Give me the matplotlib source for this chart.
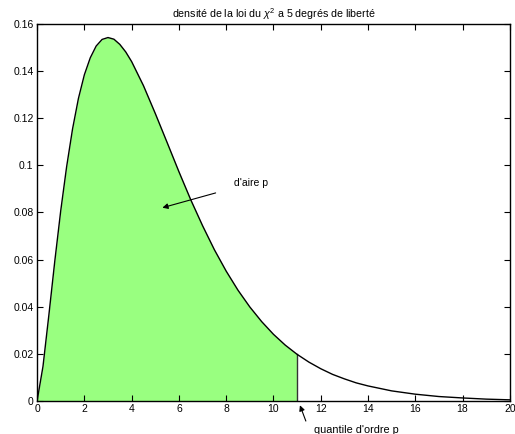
import matplotlib
matplotlib.use('Agg')
import matplotlib.pyplot as plt

plt.rcParams['font.family'] = ['Liberation Sans', 'DejaVu Sans']
plt.rcParams['mathtext.fontset'] = 'custom'
plt.rcParams['mathtext.it'] = 'Liberation Sans:italic'
plt.rcParams['mathtext.rm'] = 'Liberation Sans'

# densite
x_vals = [0, 0.25, 0.5, 0.75, 1, 1.25, 1.5, 1.75, 2, 2.25, 2.5, 2.75, 3, 3.25, 3.5, 3.75,
          4, 4.5, 5, 5.5, 6, 6.5, 7, 7.5, 8, 8.5, 9, 9.5, 10, 10.5, 11,
          11.5, 12, 12.5, 13, 13.5, 14, 15, 16, 17, 18, 19, 20]
dens = [0, 0.0147, 0.0366, 0.0594, 0.0807, 0.0994, 0.1154, 0.1284, 0.1384, 0.1456, 0.1506, 0.1534, 0.1542, 0.1535, 0.1513, 0.1481,
        0.1440, 0.1338, 0.1220, 0.1097, 0.0973, 0.0854, 0.0744, 0.0642, 0.0551, 0.0470, 0.0399, 0.0337, 0.0283, 0.0237, 0.0198,
        0.0165, 0.0137, 0.0113, 0.0094, 0.0077, 0.0064, 0.0043, 0.0029, 0.0019, 0.0013, 0.0008, 0.0005]
quantile = 11

fig = plt.figure(figsize=(5.15, 4.34), dpi=100)
ax = fig.add_axes([0.072, 0.076, 0.918, 0.869])

xs_fill = [x for x in x_vals if x <= quantile]
ys_fill = dens[:len(xs_fill)]
ax.fill_between(xs_fill, ys_fill, 0, color='#99ff80', linewidth=0)
ax.plot([quantile, quantile], [0, ys_fill[-1]], color='#333333', linewidth=1)
ax.plot(x_vals, dens, color='black', linewidth=1)

ax.set_xlim(0, 20)
ax.set_ylim(0, 0.16)
ax.set_xticks(range(0, 21, 2))
ax.set_yticks([0, 0.02, 0.04, 0.06, 0.08, 0.1, 0.12, 0.14, 0.16])
ax.set_yticklabels(['0', '0.02', '0.04', '0.06', '0.08', '0.1', '0.12', '0.14', '0.16'])
ax.tick_params(direction='in', top=True, right=True, labelsize=7.5, length=4, pad=2.5)
for s in ax.spines.values():
    s.set_linewidth(1)

ax.set_title(r'densité de la loi du $\chi^2$ a 5 degrés de liberté', fontsize=7.7, pad=4)

ax.annotate("d'aire p", xy=(5.3, 0.082), xytext=(8.35, 0.0925), fontsize=7.5,
            va='center', ha='left',
            arrowprops=dict(arrowstyle='-|>', color='black', lw=0.8,
                            mutation_scale=8, shrinkA=12, shrinkB=0),
            annotation_clip=False)
ax.annotate("", xy=(11.12, -0.0018), xytext=(11.37, -0.0085),
            arrowprops=dict(arrowstyle='-|>', color='black', lw=0.8,
                            mutation_scale=8, shrinkA=0, shrinkB=0),
            annotation_clip=False)
ax.text(11.7, -0.0123, "quantile d'ordre p", fontsize=7.8, va='center', ha='left')

fig.savefig('out.png', dpi=100)
